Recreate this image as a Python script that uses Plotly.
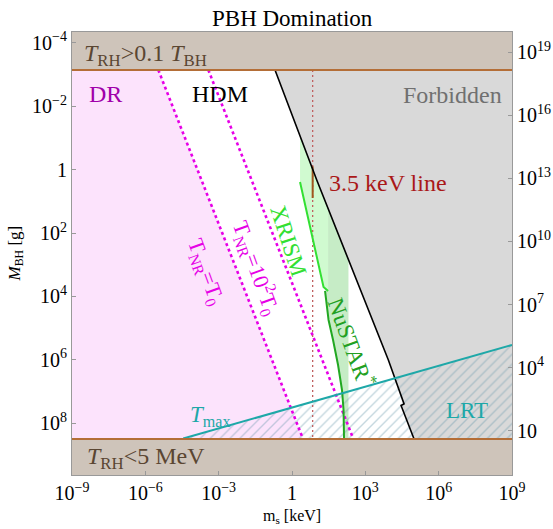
import math
import plotly.graph_objects as go

# ---------------- data (keV on x, left-axis units on y) ----------------
X_MIN, X_MAX = 1e-9, 1e9
Y_AX_TOP, Y_AX_BOT = 10 ** -4.337, 10 ** 9.629      # left axis (reversed)
Y2_RANGE = [-1.11, 19.966]                          # right axis, log10
Y_TOP = 7.26e-4       # T_RH > 0.1 T_BH boundary
Y_BOT = 3.12e8        # T_RH < 5 MeV boundary

tnr1_x = [3.40e-6, 2.83]            # T_NR = T0
tnr1_y = [Y_TOP, Y_BOT]
tnr2_x = [3.78e-4, 324.0]           # T_NR = 10^2 T0
tnr2_y = [Y_TOP, Y_BOT]

black_x = [0.202, 10.28, 8750.0, 38400.0, 28900.0, 98400.0]
black_y = [Y_TOP, 2.13, 1.007e6, 2.45e7, 2.74e7, Y_BOT]

tmax_x = [3.55e-5, 1e9]
tmax_y = [3.0e8, 3.39e5]

xrism_x = [2.13, 19.5, 29.9]
xrism_y = [2.47, 5035.0, 6730.0]

nustar_x = [22.5, 31.3, 47.8, 76.6, 111.0, 128.5, 134.6]
nustar_y = [6730.0, 5.52e4, 2.36e5, 1.45e6, 8.89e6, 3.80e7, Y_BOT]

line35_x = 7.0
line35_solid_y = [0.80, 7.87]

green_light_x = [2.13, 2.13, 19.5, 29.9, 29.9, 10.28, 2.13]
green_light_y = [0.0873, 2.47, 5035.0, 6730.0, 16.8, 2.13, 0.0873]
green_dark_x = [29.9, 204.0, 204.0, 134.6, 128.5, 111.0, 76.6, 47.8, 31.3, 22.5, 29.9]
green_dark_y = [16.8, 646.0, Y_BOT, Y_BOT, 3.80e7, 8.89e6, 1.45e6, 2.36e5, 5.52e4, 6730.0, 6730.0]

x_tickvals = [1e-9, 1e-6, 1e-3, 1, 1e3, 1e6, 1e9]
x_ticktext = ["10<sup>−9</sup>", "10<sup>−6</sup>", "10<sup>−3</sup>", "1",
              "10<sup>3</sup>", "10<sup>6</sup>", "10<sup>9</sup>"]
y_tickvals = [1e-4, 1e-2, 1, 1e2, 1e4, 1e6, 1e8]
y_ticktext = ["10<sup>−4</sup>", "10<sup>−2</sup>", "1", "10<sup>2</sup>",
              "10<sup>4</sup>", "10<sup>6</sup>", "10<sup>8</sup>"]
y2_tickvals = [10, 1e4, 1e7, 1e10, 1e13, 1e16, 1e19]
y2_ticktext = ["10", "10<sup>4</sup>", "10<sup>7</sup>", "10<sup>10</sup>",
               "10<sup>13</sup>", "10<sup>16</sup>", "10<sup>19</sup>"]

FONT = "Liberation Serif"

fig = go.Figure()


def poly(xs, ys, color, **kw):
    fig.add_trace(go.Scatter(x=xs, y=ys, mode="lines", fill="toself",
                             fillcolor=color, line=dict(width=0),
                             hoverinfo="skip", showlegend=False, **kw))


def line(xs, ys, color, width, dash="solid"):
    fig.add_trace(go.Scatter(x=xs, y=ys, mode="lines",
                             line=dict(color=color, width=width, dash=dash),
                             hoverinfo="skip", showlegend=False))


# DR region (pink)
poly([X_MIN / 10, tnr1_x[0], tnr1_x[1], X_MIN / 10],
     [Y_TOP, Y_TOP, Y_BOT, Y_BOT], "#fce3fc")
# Forbidden region (gray)
poly(black_x + [X_MAX * 10, X_MAX * 10], black_y + [Y_BOT, Y_TOP], "#d9d9d9")
# X-ray sensitivity bands
poly(green_light_x, green_light_y, "#d0fad0")
poly(green_dark_x, green_dark_y, "#c6ecc6")
# LRT hatch under T_max
fig.add_trace(go.Scatter(
    x=[tmax_x[0], tmax_x[1], X_MAX * 10, X_MAX * 10, tmax_x[0]],
    y=[tmax_y[0], tmax_y[1], tmax_y[1], Y_BOT, Y_BOT],
    mode="lines", fill="toself", fillcolor="rgba(0,0,0,0)",
    fillpattern=dict(shape="/", fgcolor="rgba(100,150,170,0.75)",
                     bgcolor="rgba(0,0,0,0)", size=7, solidity=0.2),
    line=dict(width=0), hoverinfo="skip", showlegend=False))

# lines
line(tnr1_x, tnr1_y, "#e600e6", 2.6, "dot")
line(tnr2_x, tnr2_y, "#e600e6", 2.6, "dot")
line([line35_x, line35_x], [Y_TOP, Y_BOT], "#c06060", 1.3, "2px,3px")
line([line35_x, line35_x], line35_solid_y, "#a0561e", 2)
line(black_x, black_y, "black", 1.6)
line(xrism_x, xrism_y, "#33e033", 2)
line(nustar_x, nustar_y, "#22a822", 2)
line(tmax_x, tmax_y, "#1ea8a8", 2)

# bands
poly([X_MIN / 10, X_MAX * 10, X_MAX * 10, X_MIN / 10],
     [Y_AX_TOP / 10, Y_AX_TOP / 10, Y_TOP, Y_TOP], "rgb(206,196,186)")
poly([X_MIN / 10, X_MAX * 10, X_MAX * 10, X_MIN / 10],
     [Y_BOT, Y_BOT, Y_AX_BOT * 10, Y_AX_BOT * 10], "rgb(206,196,186)")
line([X_MIN / 10, X_MAX * 10], [Y_TOP, Y_TOP], "rgb(180,110,55)", 2)
line([X_MIN / 10, X_MAX * 10], [Y_BOT, Y_BOT], "rgb(180,110,55)", 2)

# invisible trace for right axis
fig.add_trace(go.Scatter(x=[1], y=[1e5], yaxis="y2", mode="markers",
                         marker=dict(opacity=0), hoverinfo="skip",
                         showlegend=False))


def ann(text, x, y, color, size, angle=0, xanchor="center"):
    fig.add_annotation(text=text, x=math.log10(x), y=math.log10(y),
                       xref="x", yref="y", showarrow=False, textangle=angle,
                       xanchor=xanchor, yanchor="middle",
                       font=dict(family=FONT, size=size, color=color))


ann("<i>T</i><sub>RH</sub>>0.1 <i>T</i><sub>BH</sub>", 10 ** -8.6, 10 ** -3.612,
    "rgb(90,70,50)", 24, xanchor="left")
ann("<i>T</i><sub>RH</sub>&lt;5 MeV", 10 ** -8.45, 10 ** 9.093,
    "rgb(90,70,50)", 24, xanchor="left")
ann("DR", 10 ** -7.65, 10 ** -2.383, "#a000aa", 24)
ann("HDM", 10 ** -2.944, 10 ** -2.383, "black", 24)
ann("Forbidden", 10 ** 6.548, 10 ** -2.351, "#707070", 24)
ann("3.5 keV line", 10 ** 3.929, 10 ** 0.423, "#aa1818", 24)
ann("<i>T</i><sub>max</sub>", 10 ** -3.354, 10 ** 7.77, "#1ea8a8", 23)
ann("LRT", 10 ** 7.162, 10 ** 7.58, "#1ea8a8", 23)
ann("T<sub>NR</sub>=T<sub>0</sub>", 10 ** -3.558, 10 ** 3.228, "#e600e6", 22, 70)
ann("T<sub>NR</sub>=10<sup>2</sup>T<sub>0</sub>", 10 ** -1.471, 10 ** 3.102,
    "#e600e6", 22, 70)
ann("XRISM", 10 ** -0.13, 10 ** 2.258, "#33e033", 23, 72)
ann("NuSTAR<sup>*</sup>", 10 ** 2.45, 10 ** 5.45, "#22a022", 23, 70)

# title & axis titles
fig.add_annotation(text="PBH Domination", xref="paper", yref="paper",
                   x=0.5, y=1.0316, showarrow=False, yanchor="middle",
                   font=dict(family=FONT, size=23, color="black"))
fig.add_annotation(text="<i>M</i><sub>BH</sub> [g]", xref="paper", yref="paper",
                   x=-0.1295, y=0.5, showarrow=False, textangle=-90,
                   xanchor="center", yanchor="middle",
                   font=dict(family=FONT, size=17, color="black"))
fig.add_annotation(text="m<sub>s</sub> [keV]", xref="paper", yref="paper",
                   x=0.5, y=-0.0948, showarrow=False,
                   xanchor="center", yanchor="middle",
                   font=dict(family=FONT, size=16, color="black"))

axis_common = dict(ticks="inside", ticklen=4, tickcolor="#999",
                   showgrid=False, zeroline=False, linecolor="#999",
                   linewidth=1, automargin=False,
                   tickfont=dict(family=FONT, size=20, color="black"))

fig.update_layout(
    width=553, height=529,
    margin=dict(l=72, r=41, t=32, b=54, autoexpand=False),
    paper_bgcolor="white", plot_bgcolor="white",
    showlegend=False,
    xaxis=dict(type="log", range=[-9, 9], tickvals=x_tickvals,
               ticktext=x_ticktext, mirror=True, **axis_common),
    yaxis=dict(type="log", range=[math.log10(Y_AX_BOT), math.log10(Y_AX_TOP)],
               tickvals=y_tickvals, ticktext=y_ticktext, mirror=False,
               **axis_common),
    yaxis2=dict(type="log", range=Y2_RANGE, overlaying="y", side="right",
                tickvals=y2_tickvals, ticktext=y2_ticktext, **axis_common),
)

fig.write_html("out.html")
